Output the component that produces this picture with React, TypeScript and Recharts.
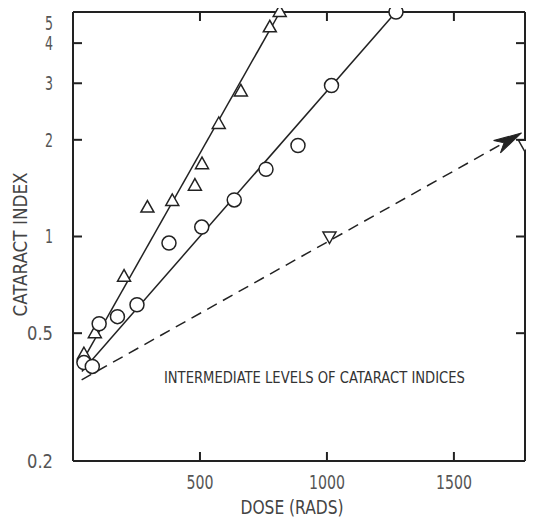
import { ComposedChart, Line, Scatter, XAxis, YAxis, ReferenceDot, ReferenceLine } from "recharts";

// open triangles
const triDose = [43, 86, 201, 293, 391, 480, 508, 574, 661, 775, 814];
const triIndex = [0.43, 0.5, 0.75, 1.23, 1.29, 1.44, 1.68, 2.24, 2.83, 4.48, 5.0];

// open circles
const circDose = [43, 76, 103, 175, 252, 378, 507, 635, 760, 886, 1018, 1272];
const circIndex = [0.405, 0.394, 0.535, 0.563, 0.613, 0.954, 1.07, 1.3, 1.62, 1.92, 2.95, 5.0];

// inverted triangles
const invDose = [1010, 1780];
const invIndex = [1.0, 1.93];

// fitted lines (end points)
const triFitDose = [30, 815];
const triFitIndex = [0.4, 5.0];
const circFitDose = [35, 1272];
const circFitIndex = [0.38, 5.0];
const dashDose = [34, 1766];
const dashIndex = [0.358, 2.1];

const xTicks = [500, 1000, 1500];
const yTicks = [0.2, 0.5, 1, 2, 3, 4, 5];

const toPts = (xs: number[], ys: number[]) => xs.map((x, i) => ({ x, y: ys[i] }));

const FONT = "'Liberation Sans Narrow', 'DejaVu Sans Condensed', 'Liberation Sans', sans-serif";
const INK = "#222";
const X_DOMAIN: [number, number] = [0, 1780];
const Y_DOMAIN: [number, number] = [0.2, 5];
const TICK_IN = 9;

const Circle = (p: any) => (
  <circle cx={p.cx} cy={p.cy} r={7} fill="#fff" stroke={INK} strokeWidth={1.5} />
);

const Tri = (p: any) => (
  <polygon
    points={`${p.cx},${p.cy - 7} ${p.cx - 6.5},${p.cy + 4.5} ${p.cx + 6.5},${p.cy + 4.5}`}
    fill="#fff"
    stroke={INK}
    strokeWidth={1.5}
  />
);

const InvTri = (p: any) => (
  <polygon
    points={`${p.cx},${p.cy + 7} ${p.cx - 6.5},${p.cy - 4.5} ${p.cx + 6.5},${p.cy - 4.5}`}
    fill="#fff"
    stroke={INK}
    strokeWidth={1.5}
  />
);

const ArrowDot = (props: any) => {
  const { cx, cy, index, points } = props;
  if (!points || index !== points.length - 1) return <g key={`a${index}`} />;
  const p0 = points[index - 1];
  const ang = (Math.atan2(cy - p0.y, cx - p0.x) * 180) / Math.PI;
  return (
    <polygon
      key={`a${index}`}
      points="0,0 -28,-7 -20,0 -28,7"
      transform={`translate(${cx},${cy}) rotate(${ang})`}
      fill={INK}
      stroke={INK}
      strokeWidth={1}
    />
  );
};

// inward tick marks at both ends of a reference line
const VTicks = (p: any) => {
  const top = Math.min(p.y1, p.y2);
  const bot = Math.max(p.y1, p.y2);
  return (
    <g>
      <line x1={p.x1} x2={p.x1} y1={bot} y2={bot - TICK_IN} stroke={INK} strokeWidth={2} />
      <line x1={p.x1} x2={p.x1} y1={top} y2={top + TICK_IN} stroke={INK} strokeWidth={2} />
    </g>
  );
};

const HTicks = (p: any) => {
  const left = Math.min(p.x1, p.x2);
  const right = Math.max(p.x1, p.x2);
  return (
    <g>
      <line x1={left} x2={left + TICK_IN} y1={p.y1} y2={p.y1} stroke={INK} strokeWidth={2} />
      <line x1={right} x2={right - TICK_IN} y1={p.y1} y2={p.y1} stroke={INK} strokeWidth={2} />
    </g>
  );
};

const NoLabel = () => <g />;

const XTick = (p: any) => {
  const s = String(p.payload.value);
  return (
    <text x={p.x} y={p.y} dy="0.71em" textAnchor="middle" fontFamily={FONT} fontSize={20} fill="#555"
      textLength={s.length * 9} lengthAdjust="spacingAndGlyphs">
      {s}
    </text>
  );
};

const YTick = (p: any) => {
  const v = p.payload.value;
  const s = v < 1 ? v.toFixed(1) : String(v);
  // the top label sits a little below its tick, as in the original
  const shift = v === 5 ? 6 : 0;
  return (
    <text x={p.x} y={p.y + shift} dy="0.355em" textAnchor="end" fontFamily={FONT} fontSize={19} fill="#555"
      textLength={s.length === 1 ? 8 : 26} lengthAdjust="spacingAndGlyphs">
      {s}
    </text>
  );
};

const YTitle = (p: any) => {
  const vb = p.viewBox;
  const x = vb.x + 19;
  const y = vb.y + vb.height / 2 + 8;
  return (
    <text x={x} y={y} transform={`rotate(-90 ${x} ${y})`} textAnchor="middle" fontFamily={FONT}
      fontSize={20} fill="#444" textLength={144} lengthAdjust="spacingAndGlyphs">
      CATARACT INDEX
    </text>
  );
};

const XTitle = (p: any) => {
  const vb = p.viewBox;
  return (
    <text x={vb.x + vb.width / 2 - 7} y={vb.y + 53} textAnchor="middle" fontFamily={FONT}
      fontSize={20} fill="#444" textLength={103} lengthAdjust="spacingAndGlyphs">
      DOSE (RADS)
    </text>
  );
};

const Note = (p: any) => (
  <text x={p.cx} y={p.cy} fontFamily={FONT} fontSize={16} fill="#333" textLength={301}
    lengthAdjust="spacingAndGlyphs">
    INTERMEDIATE LEVELS OF CATARACT INDICES
  </text>
);

export default function App() {
  const axisLine = { stroke: INK, strokeWidth: 2 };
  const dash = toPts(dashDose, dashIndex);
  return (
    <ComposedChart width={526} height={511} margin={{ top: 4, right: 9, left: 0, bottom: 0 }}>
      {/* labelled axes (outside) */}
      <XAxis xAxisId="b" type="number" dataKey="x" domain={X_DOMAIN} ticks={xTicks} orientation="bottom"
        height={58} tickSize={0} tickMargin={14} axisLine={axisLine} tickLine={false} tick={<XTick />}
        label={{ content: <XTitle /> }} />
      <YAxis yAxisId="l" type="number" dataKey="y" scale="log" domain={Y_DOMAIN} ticks={yTicks}
        width={65} tickSize={0} tickMargin={20} axisLine={axisLine} tickLine={false} tick={<YTick />}
        label={{ content: <YTitle /> }} />
      {/* mirrored axes: the rest of the frame */}
      <XAxis xAxisId="t" type="number" dataKey="x" domain={X_DOMAIN} ticks={xTicks} orientation="top"
        mirror axisLine={axisLine} tickLine={false} tick={<NoLabel />} />
      <YAxis yAxisId="r" type="number" dataKey="y" scale="log" domain={Y_DOMAIN} ticks={yTicks}
        orientation="right" mirror axisLine={axisLine} tickLine={false} tick={<NoLabel />} />

      {/* invisible copy so the mirrored axes have a series */}
      <Line xAxisId="t" yAxisId="r" data={dash} dataKey="y" stroke="none" dot={false} activeDot={false}
        isAnimationActive={false} />

      {/* inward tick marks on all four sides */}
      {xTicks.map((t) => (
        <ReferenceLine key={`xt${t}`} xAxisId="b" yAxisId="l" x={t} shape={VTicks} />
      ))}
      {yTicks.map((t) => (
        <ReferenceLine key={`yt${t}`} xAxisId="b" yAxisId="l" y={t} shape={HTicks} />
      ))}

      <Line xAxisId="b" yAxisId="l" data={toPts(triFitDose, triFitIndex)} dataKey="y" stroke={INK}
        strokeWidth={1.5} dot={false} activeDot={false} isAnimationActive={false} />
      <Line xAxisId="b" yAxisId="l" data={toPts(circFitDose, circFitIndex)} dataKey="y" stroke={INK}
        strokeWidth={1.5} dot={false} activeDot={false} isAnimationActive={false} />
      <Line xAxisId="b" yAxisId="l" data={dash} dataKey="y" stroke={INK}
        strokeWidth={1.5} strokeDasharray="11 7" dot={ArrowDot} activeDot={false} isAnimationActive={false} />

      <Scatter xAxisId="b" yAxisId="l" data={toPts(triDose, triIndex)} shape={Tri} isAnimationActive={false} />
      <Scatter xAxisId="b" yAxisId="l" data={toPts(circDose, circIndex)} shape={Circle} isAnimationActive={false} />
      <Scatter xAxisId="b" yAxisId="l" data={toPts(invDose, invIndex)} shape={InvTri} isAnimationActive={false} />

      <ReferenceDot xAxisId="b" yAxisId="l" x={358} y={0.35} r={0} shape={Note} />
    </ComposedChart>
  );
}
